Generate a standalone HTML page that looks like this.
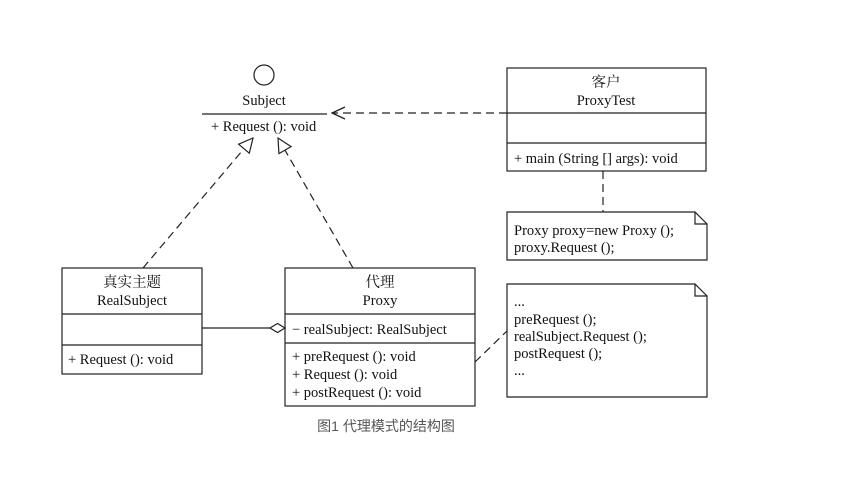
<!DOCTYPE html>
<html><head><meta charset="utf-8"><style>
body{margin:0;background:#fff;width:842px;height:473px;overflow:hidden}
svg text{font-family:"Liberation Serif","Noto Serif CJK SC",serif;font-size:14.5px;fill:#111}
</style></head><body>
<svg width="842" height="473" xmlns="http://www.w3.org/2000/svg">
<defs>
<marker id="tri" viewBox="0 0 16 16" refX="15" refY="8" markerWidth="16" markerHeight="16" markerUnits="userSpaceOnUse" orient="auto">
<path d="M1,1 L15,8 L1,15 Z" fill="#fff" stroke="#222" stroke-width="1.2"/></marker>
<marker id="open" viewBox="0 0 14 14" refX="13" refY="7" markerWidth="14" markerHeight="14" markerUnits="userSpaceOnUse" orient="auto">
<path d="M0,1 L13,7 L0,13" fill="none" stroke="#222" stroke-width="1.3"/></marker>
</defs>
<g stroke="#222" stroke-width="1.2" fill="none">
<circle cx="264" cy="75" r="10"/>
<line x1="202" y1="114" x2="327" y2="114"/>
<rect x="507" y="68" width="199" height="103"/>
<line x1="507" y1="113" x2="706" y2="113"/>
<line x1="507" y1="143" x2="706" y2="143"/>
<line x1="507" y1="113" x2="332" y2="113" stroke-dasharray="8,5" marker-end="url(#open)"/>
<line x1="603" y1="171" x2="603" y2="212" stroke-dasharray="8,5"/>
<path d="M507,212 H695 L707,224 V260 H507 Z"/>
<path d="M695,212 V224 H707"/>
<rect x="62" y="268" width="140" height="106"/>
<line x1="62" y1="314" x2="202" y2="314"/>
<line x1="62" y1="345" x2="202" y2="345"/>
<rect x="285" y="268" width="190" height="138"/>
<line x1="285" y1="314" x2="475" y2="314"/>
<line x1="285" y1="343" x2="475" y2="343"/>
<line x1="202" y1="328" x2="270" y2="328"/>
<path d="M270,328 L277.5,323.5 L285,328 L277.5,332.5 Z" fill="#fff"/>
<path d="M507,284 H695 L707,296 V397 H507 Z"/>
<path d="M695,284 V296 H707"/>
<line x1="475" y1="362" x2="507" y2="331" stroke-dasharray="8,5"/>
<line x1="143" y1="268" x2="253" y2="138" stroke-dasharray="8,5" marker-end="url(#tri)"/>
<line x1="353" y1="268" x2="278" y2="138" stroke-dasharray="8,5" marker-end="url(#tri)"/>
</g>
<text x="264" y="105" text-anchor="middle">Subject</text>
<text x="211" y="131">+ Request (): void</text>
<text x="606" y="87" text-anchor="middle">客户</text>
<text x="606" y="105" text-anchor="middle">ProxyTest</text>
<text x="514" y="163">+ main (String [] args): void</text>
<text x="514" y="235">Proxy proxy=new Proxy ();</text>
<text x="514" y="252">proxy.Request ();</text>
<text x="132" y="287" text-anchor="middle">真实主题</text>
<text x="132" y="305" text-anchor="middle">RealSubject</text>
<text x="68" y="364">+ Request (): void</text>
<text x="380" y="287" text-anchor="middle">代理</text>
<text x="380" y="305" text-anchor="middle">Proxy</text>
<text x="292" y="334">− realSubject: RealSubject</text>
<text x="292" y="361">+ preRequest (): void</text>
<text x="292" y="379">+ Request (): void</text>
<text x="292" y="397">+ postRequest (): void</text>
<text x="514" y="306">...</text>
<text x="514" y="324">preRequest ();</text>
<text x="514" y="341">realSubject.Request ();</text>
<text x="514" y="358">postRequest ();</text>
<text x="514" y="375">...</text>
<text x="386" y="431" text-anchor="middle" style="font-family:'Liberation Sans','Noto Sans CJK SC',sans-serif;font-size:14px;fill:#555">图1 代理模式的结构图</text>
</svg>
</body></html>
